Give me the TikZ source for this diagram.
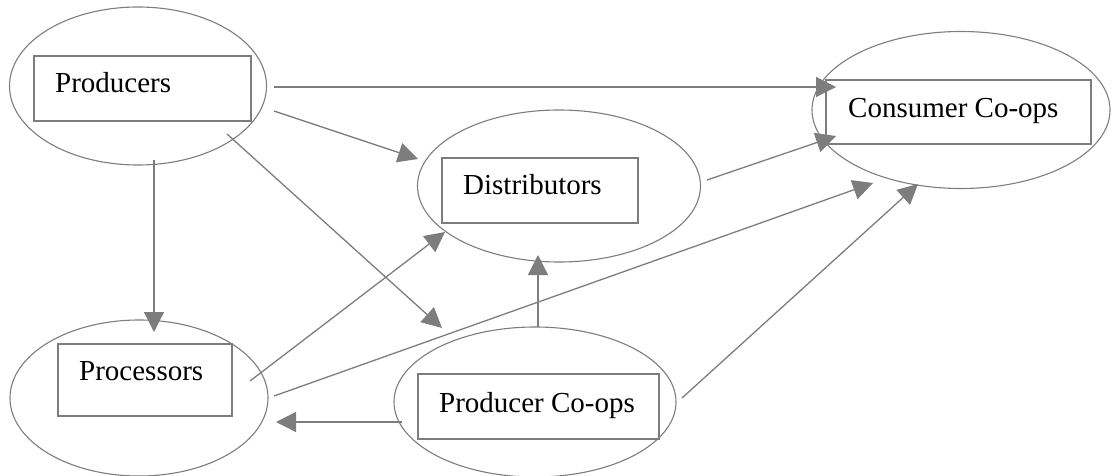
\documentclass[tikz,border=0pt]{standalone}
\usepackage{fontspec}
\setmainfont{Liberation Serif}
\usetikzlibrary{arrows.meta,shapes.geometric}

\definecolor{linegray}{RGB}{125,125,125}

\tikzset{
  oval/.style={draw=linegray, line width=1.1pt, ellipse, inner sep=0pt},
  frame/.style={draw=linegray, line width=1.6pt, inner sep=0pt},
  label/.style={anchor=base west, inner sep=0pt, font=\fontsize{29}{34}\selectfont},
  flow/.style={draw=linegray, line width=1.3pt,
    -{Triangle[length=20pt,width=20pt]}, shorten >=0pt}
}

\begin{document}
\begin{tikzpicture}[x=1pt,y=-1pt]
\useasboundingbox (0,0) rectangle (1112,476);

% ovals
\node[oval, minimum width=257pt, minimum height=158pt] (prodE) at (138,86) {};
\node[oval, minimum width=298pt, minimum height=157pt] (consE) at (961,110) {};
\node[oval, minimum width=283pt, minimum height=152pt] (distE) at (559,186) {};
\node[oval, minimum width=258pt, minimum height=156pt] (procE) at (139,398) {};
\node[oval, minimum width=282pt, minimum height=150pt] (coopE) at (535,402) {};

% boxes
\draw[frame] (34,56) rectangle (251,121);
\draw[frame] (826,80) rectangle (1091,144);
\draw[frame] (442,158) rectangle (638,223);
\draw[frame] (58,344) rectangle (232,416);
\draw[frame] (418,374) rectangle (659,439);

% labels
\node[label] (prodT) at (55,93) {Producers};
\node[label] (consT) at (848,118) {Consumer Co-ops};
\node[label] (distT) at (463,195) {Distributors};
\node[label] (procT) at (79,380) {Processors};
\node[label] (coopT) at (439,412) {Producer Co-ops};

% connector end points
\coordinate (p1) at (274,87);   \coordinate (c1) at (836,87);
\coordinate (p2) at (274,111);  \coordinate (d1) at (418,159);
\coordinate (p3) at (227,134);  \coordinate (k1) at (442,328);
\coordinate (p4) at (154,160);  \coordinate (r1) at (154,332);
\coordinate (d2) at (707,180);  \coordinate (c2) at (836,136);
\coordinate (r2) at (250,381);  \coordinate (d3) at (445,232);
\coordinate (r3) at (274,396);  \coordinate (c3) at (873,183);
\coordinate (k2) at (402,422);  \coordinate (r4) at (276,422);
\coordinate (k3) at (538,327);  \coordinate (d4) at (538,255);
\coordinate (k4) at (682,398);  \coordinate (c4) at (918,184);

% connectors
\draw[flow] (p1) -- (c1);
\draw[flow] (p2) -- (d1);
\draw[flow] (p3) -- (k1);
\draw[flow] (p4) -- (r1);
\draw[flow] (d2) -- (c2);
\draw[flow] (r2) -- (d3);
\draw[flow] (r3) -- (c3);
\draw[flow] (k2) -- (r4);
\draw[flow] (k3) -- (d4);
\draw[flow] (k4) -- (c4);
\end{tikzpicture}
\end{document}
